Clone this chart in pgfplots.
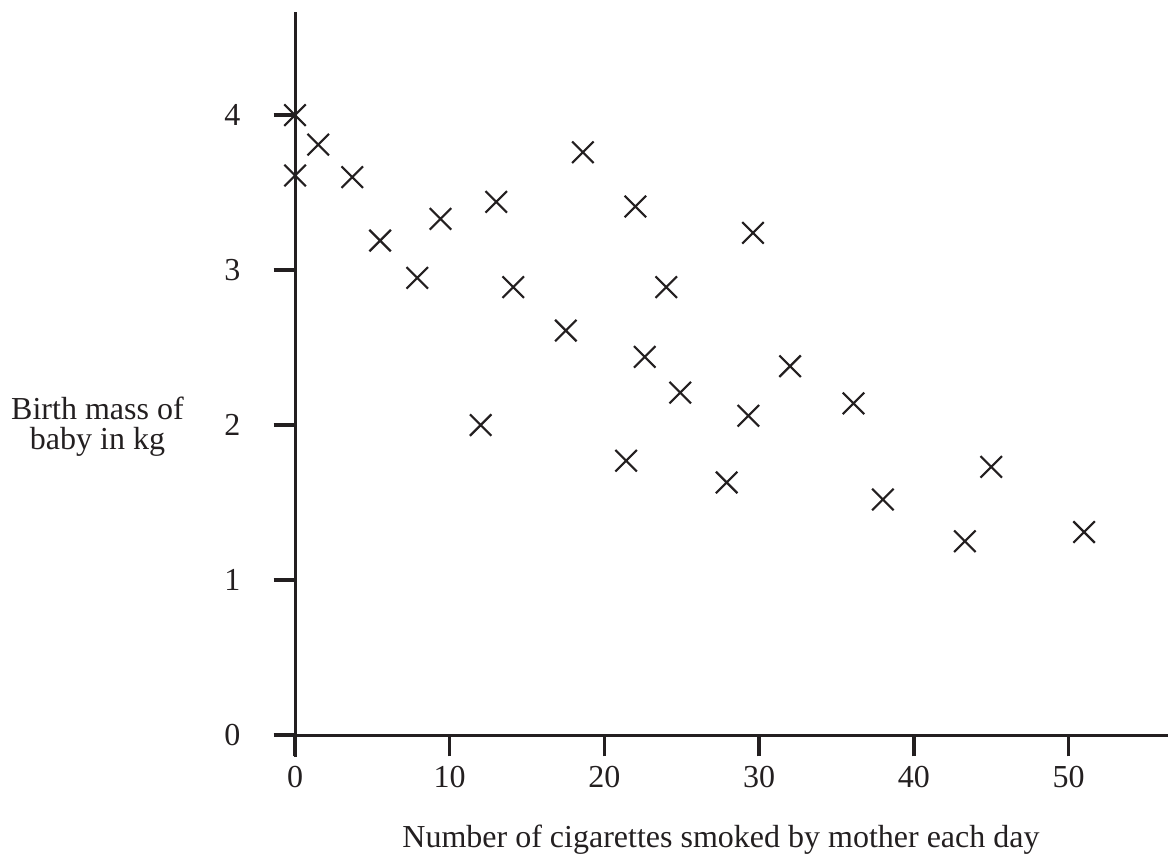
\documentclass[border=0pt]{standalone}
\usepackage{fontspec}
\setmainfont{Liberation Serif}
\usepackage{pgfplots}
\pgfplotsset{compat=1.18}
\definecolor{ink}{RGB}{35,31,32}
\begin{document}
\begin{tikzpicture}
\begin{axis}[
  name=a,
  at={(0,0)}, anchor=south west,
  scale only axis,
  width=335.25pt, height=279.4pt,
  xmin=-1.36, xmax=56.43,
  ymin=-0.142, ymax=4.665,
  axis lines=middle,
  axis line style={-, line width=1.1pt, ink},
  xtick={0,10,20,30,40,50},
  ytick={0,1,2,3,4},
  minor tick num=0,
  tick align=outside,
  major tick length=8pt,
  tick style={line width=1.3pt, ink},
  hide obscured x ticks=false,
  hide obscured y ticks=false,
  /pgf/number format/assume math mode=true,
  tick label style={font=\fontsize{12}{14}\selectfont, text=ink},
  yticklabel style={xshift=-9pt},
  xlabel={Number of cigarettes smoked by mother each day},
  ylabel={Birth mass of\\baby in kg},
  every axis x label/.style={at={(axis description cs:0.5,0)}, anchor=base, yshift=-33.75pt, font=\fontsize{12}{14}\selectfont, text=ink},
  every axis y label/.style={at={(axis description cs:0,0.444)}, anchor=center, xshift=-66.2pt, align=center, font=\fontsize{12}{11.3}\selectfont, text=ink},
  clip=false,
]
\addplot[only marks, mark=x, mark size=5.7pt, mark options={line width=0.8pt, ink}] table {
x y
0 4.0
0 3.61
1.5 3.81
3.7 3.60
5.5 3.19
7.9 2.95
9.4 3.33
12.0 2.0
13.0 3.44
14.1 2.89
17.5 2.61
18.6 3.76
21.4 1.77
22.0 3.41
22.6 2.44
24.0 2.89
24.9 2.21
27.9 1.63
29.3 2.06
29.6 3.24
32.0 2.38
36.1 2.14
38.0 1.52
43.3 1.25
45.0 1.73
51.0 1.31
};
\end{axis}
\pgfresetboundingbox
\path[use as bounding box] (-102.75pt,-37.5pt) rectangle (335.25pt,283.9pt);
\end{tikzpicture}
\end{document}
